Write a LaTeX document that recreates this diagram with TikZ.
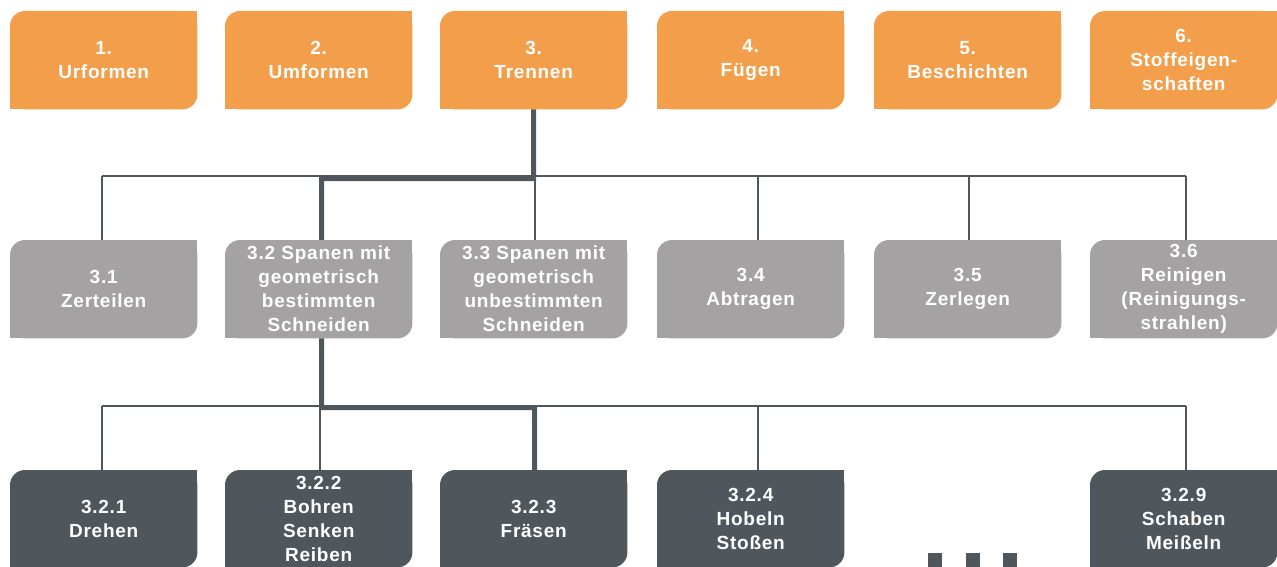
\documentclass[tikz,border=0pt]{standalone}
\usepackage{fontspec}
\setmainfont{Liberation Sans}[LetterSpace=4]
\usetikzlibrary{backgrounds,calc}
\definecolor{orangebox}{HTML}{F39E4B}
\definecolor{graybox}{HTML}{A4A2A2}
\definecolor{darkbox}{HTML}{4F575D}
\definecolor{linec}{HTML}{4F575D}
\newcommand{\leafshape}[2]{%
  \fill[#2,rounded corners=15pt] (#1.south west) rectangle (#1.north east);
  \fill[#2] ($(#1.north east)+(-20,0)$) rectangle ($(#1.north east)+(0,20)$);
  \fill[#2] (#1.south west) rectangle ($(#1.south west)+(20,-20)$);}
\begin{document}
\begin{tikzpicture}[x=1pt,y=-1pt,
  box/.style={anchor=north west,minimum width=187pt,inner sep=0pt,text width=185pt,align=center,
    text=white,font=\fontsize{19}{24}\selectfont\bfseries},
  row1/.style={box,minimum height=98pt},
  row2/.style={box,minimum height=98pt},
  row3/.style={box,minimum height=97pt},
  thin/.style={draw=linec,line width=2.3pt},
  thick/.style={draw=linec,line width=5pt}]
\useasboundingbox (0,0) rectangle (1277,567);
% top row
\node[row1] (n1) at (10,11) {1.\\Urformen};
\node[row1] (n2) at (225,11) {2.\\Umformen};
\node[row1] (n3) at (440,11) {3.\\Trennen};
\node[row1] (n4) at (657,11) {4.\\Fügen};
\node[row1] (n5) at (874,11) {5.\\Beschichten};
\node[row1] (n6) at (1090,11) {6.\\Stoffeigen-\\schaften};
% second row
\node[row2] (n31) at (10,240) {3.1\\Zerteilen};
\node[row2] (n32) at (225,240) {3.2 Spanen mit\\geometrisch\\bestimmten\\Schneiden};
\node[row2] (n33) at (440,240) {3.3 Spanen mit\\geometrisch\\unbestimmten\\Schneiden};
\node[row2] (n34) at (657,240) {3.4\\Abtragen};
\node[row2] (n35) at (874,240) {3.5\\Zerlegen};
\node[row2] (n36) at (1090,240) {3.6\\Reinigen\\(Reinigungs-\\strahlen)};
% third row
\node[row3] (n321) at (10,470) {3.2.1\\Drehen};
\node[row3] (n322) at (225,470) {3.2.2\\Bohren\\Senken\\Reiben};
\node[row3] (n323) at (440,470) {3.2.3\\Fräsen};
\node[row3] (n324) at (657,470) {3.2.4\\Hobeln\\Stoßen};
\node[row3] (n329) at (1090,470) {3.2.9\\Schaben\\Meißeln};
\begin{scope}[on background layer]
\foreach \n in {n1,n2,n3,n4,n5,n6}{\leafshape{\n}{orangebox}}
\foreach \n in {n31,n32,n33,n34,n35,n36}{\leafshape{\n}{graybox}}
\foreach \n in {n321,n322,n323,n324,n329}{\leafshape{\n}{darkbox}}
\end{scope}
% bus coordinates
\coordinate (busA) at (0,176);
\coordinate (busB) at (0,406);
% thin connectors level 2
\draw[thin] ($(n31.north |- busA)+(-2,0)$) -- ($(n36.north |- busA)+(2.5,0)$);
\draw[thin] ($(n31.north)+(-2,0)$) -- ($(n31.north |- busA)+(-2,0)$);
\draw[thin] ($(n33.north)+(1,0)$) -- ($(n33.north |- busA)+(1,0)$);
\draw[thin] ($(n34.north)+(7,0)$) -- ($(n34.north |- busA)+(7,0)$);
\draw[thin] ($(n35.north)+(1,0)$) -- ($(n35.north |- busA)+(1,0)$);
\draw[thin] ($(n36.north)+(2.5,0)$) -- ($(n36.north |- busA)+(2.5,0)$);
% thin connectors level 3
\draw[thin] ($(n321.north |- busB)+(-2,0)$) -- ($(n329.north |- busB)+(2.5,0)$);
\draw[thin] ($(n321.north)+(-2,0)$) -- ($(n321.north |- busB)+(-2,0)$);
\draw[thin] ($(n322.north)+(1.5,0)$) -- ($(n322.north |- busB)+(1.5,0)$);
\draw[thin] ($(n324.north)+(7,0)$) -- ($(n324.north |- busB)+(7,0)$);
\draw[thin] ($(n329.north)+(2.5,0)$) -- ($(n329.north |- busB)+(2.5,0)$);
% thick path
\draw[thick,line join=miter] (n3.south) -- (533.5,178.5) -- (321.5,178.5) -- ($(n32.north)+(3,0)$);
\draw[thick,line join=miter] ($(n32.south)+(3,0)$) -- (321.5,407.5) -- (534.5,407.5) -- ($(n323.north)+(1,0)$);
% ellipsis squares
\fill[darkbox] (928,553) rectangle ++(14,14);
\fill[darkbox] (966,553) rectangle ++(14,14);
\fill[darkbox] (1003,553) rectangle ++(14,14);
\end{tikzpicture}
\end{document}
